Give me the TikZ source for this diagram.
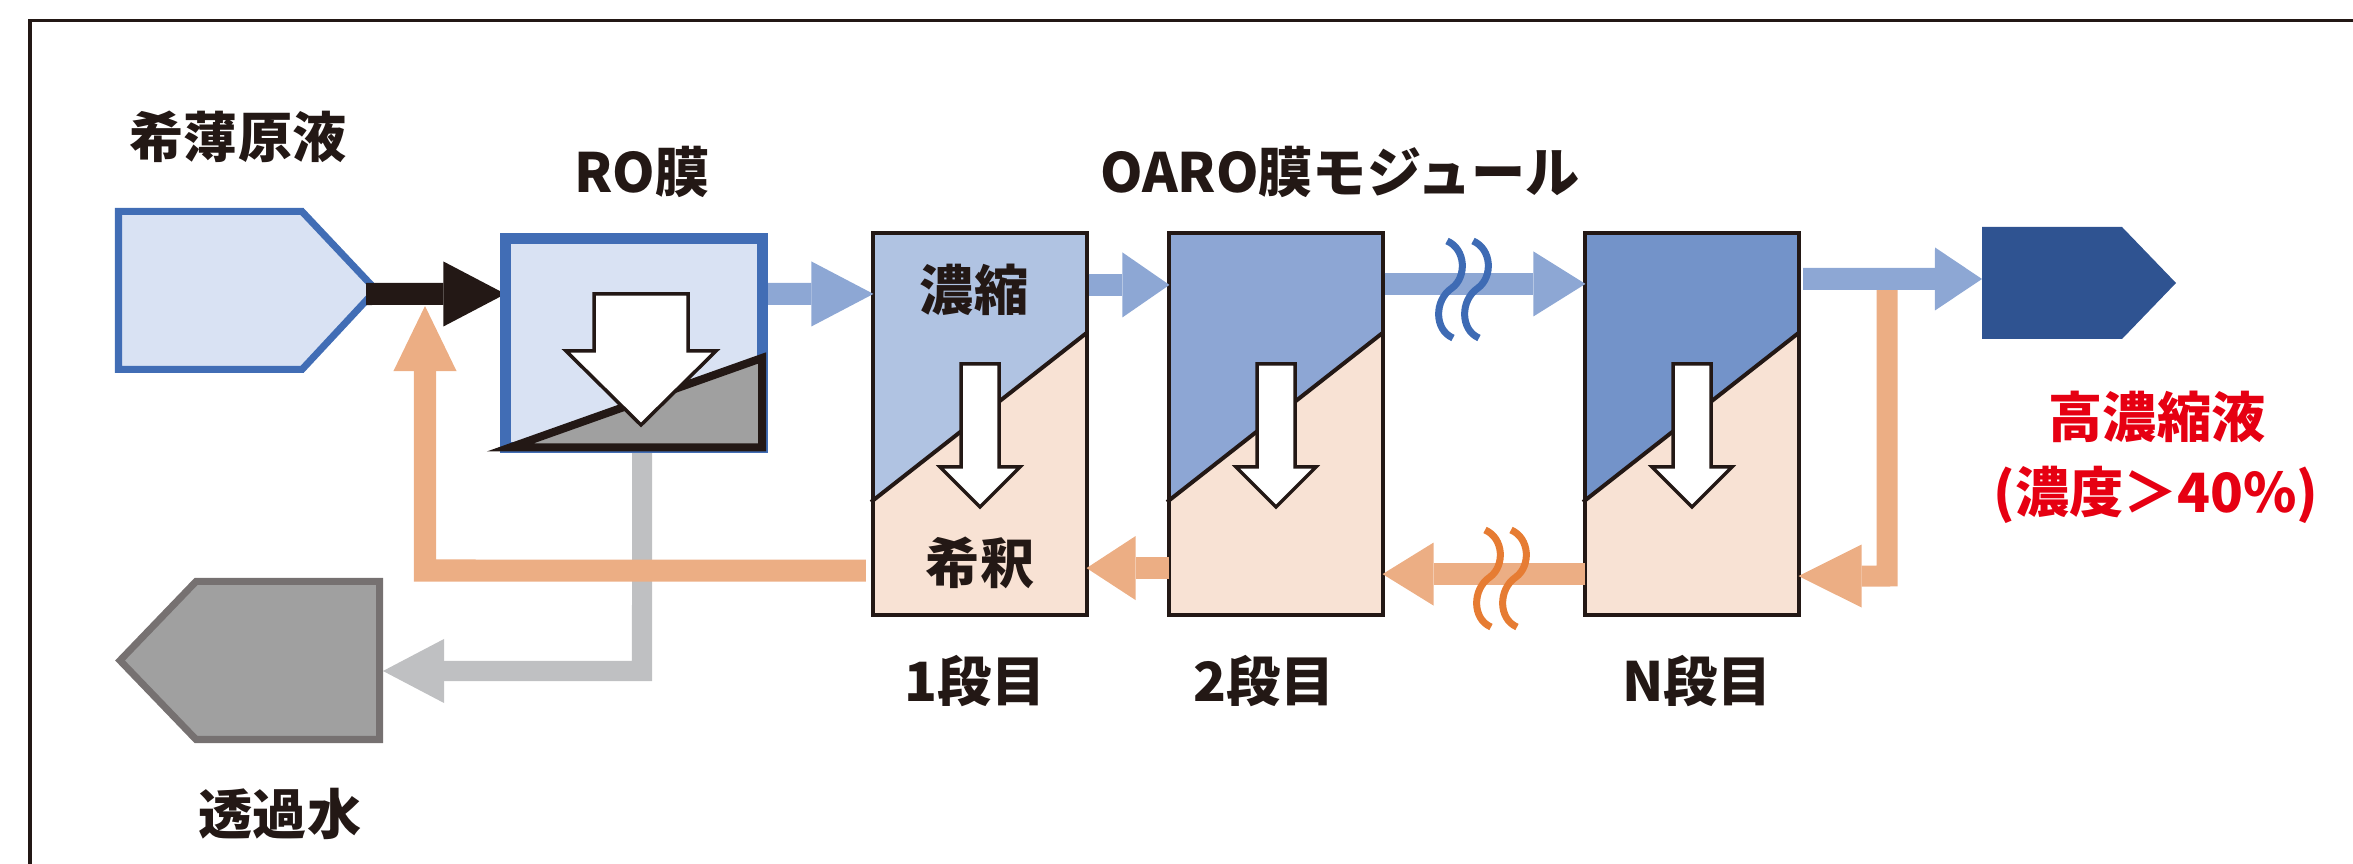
\documentclass[tikz,border=0pt]{standalone}
\usepackage{fontspec}
\setmainfont{Noto Sans CJK JP}
\usetikzlibrary{arrows.meta,calc}
\definecolor{ink}{HTML}{231815}
\definecolor{feedfill}{HTML}{D9E2F3}
\definecolor{roblue}{HTML}{416DB5}
\definecolor{stA}{HTML}{B0C3E2}
\definecolor{stB}{HTML}{8DA6D4}
\definecolor{stC}{HTML}{7393C9}
\definecolor{peach}{HTML}{F8E2D4}
\definecolor{flowblue}{HTML}{8DA7D4}
\definecolor{floworange}{HTML}{ECAE84}
\definecolor{squigorange}{HTML}{E67C33}
\definecolor{squigblue}{HTML}{3E6BB4}
\definecolor{permgray}{HTML}{BFC0C2}
\definecolor{grayfill}{HTML}{A0A0A0}
\definecolor{grayborder}{HTML}{767171}
\definecolor{product}{HTML}{2F5391}
\definecolor{redtxt}{HTML}{E60012}
\newcommand{\drawstage}[3]{%
  \fill[peach] ({#2-106.5},233) rectangle ({#2+106.5},615);
  \fill[#3] ({#2-106.5},233) -- ({#2+106.5},233) -- ({#2+106.5},333) -- ({#2-106.5},500) -- cycle;
  \draw[ink,line width=0.04cm] ({#2-109},502) -- ({#2+106.5},333);
  \draw[whitearr] ({#2-19},364) -- ({#2+19},364) -- ({#2+19},467) -- ({#2+40},467) -- (#2,507) -- ({#2-40},467) -- ({#2-19},467) -- cycle;
  \node[stbox] (#1) at (#2,424) {};
}
\begin{document}
\begin{tikzpicture}[x=0.01cm,y=-0.01cm,
  font=\fontsize{15.4pt}{18pt}\selectfont\bfseries,
  lbl/.style={text=ink, inner sep=0pt},
  redlbl/.style={text=redtxt, inner sep=0pt},
  stbox/.style={draw=ink, line width=0.04cm, minimum width=2.13cm, minimum height=3.82cm, inner sep=0pt, outer sep=0pt},
  robox/.style={draw=roblue, fill=feedfill, line width=0.11cm, minimum width=2.57cm, minimum height=2.09cm, inner sep=0pt, outer sep=0pt},
  whitearr/.style={draw=ink, fill=white, line width=0.035cm, line join=miter},
  flow/.style={line width=0.22cm, line cap=butt, line join=miter},
  squig/.style={line width=0.07cm, line cap=butt},
]
\useasboundingbox (0,0) rectangle (2353,864);
% frame
\draw[ink, line width=0.03cm] (30,864) -- (30,21) -- (2353,21);

% RO box node (drawn early for anchors)
\node[robox] (ro) at (634,343) {};
\fill[white] (ro.north west) rectangle (ro.south east);
% permeate line (gray)
\coordinate (permtip) at (383,671);
\draw[flow, draw=permgray, line width=0.2cm, -{Triangle[length=0.61cm,width=0.64cm,line width=0pt]}]
  ([xshift=0.08cm]ro.south) -- (642,671) -- (permtip);
% recycle line (orange) to feed
\coordinate (recycle) at (425,306);

% pentagons
\draw[draw=roblue, fill=feedfill, line width=0.07cm, line join=miter]
  (118.5,211.5) -- (302,211.5) -- (376,290) -- (302,369.5) -- (118.5,369.5) -- cycle;
\coordinate (feedtip) at (366,294);
\draw[draw=grayborder, fill=grayfill, line width=0.07cm, line join=miter]
  (379.5,581.5) -- (196,581.5) -- (120,660.5) -- (196,739.5) -- (379.5,739.5) -- cycle;
\fill[product] (1982,227) -- (2122,227) -- (2176,283) -- (2122,339) -- (1982,339) -- cycle;
\coordinate (prodin) at (1982,279);

% black feed arrow
\draw[flow, draw=ink, -{Triangle[length=0.62cm,width=0.65cm,line width=0pt]}]
  (feedtip) -- ([yshift=0.49cm]ro.west);

% RO box
\node[robox] (ro) at (634,343) {};
\draw[line width=0.08cm, draw=ink, fill=grayfill, line join=miter]
  (510,447.5) -- (762,358) -- (762,447.5) -- cycle;
\draw[whitearr] (594,294) -- (688,294) -- (688,351) -- (716,351) -- (641,425) -- (566,351) -- (594,351) -- cycle;

% stages
\drawstage{s1}{980}{stA}
\drawstage{s2}{1276}{stB}
\drawstage{sN}{1692}{stC}

% recycle to feed
\draw[flow, draw=floworange, -{Triangle[length=0.65cm,width=0.63cm,line width=0pt]}]
  ([xshift=-0.075cm,yshift=-1.465cm]s1.west) -- (425,570.5) -- (recycle);

% blue forward arrows
\draw[flow, draw=flowblue, -{Triangle[length=0.62cm,width=0.65cm,line width=0pt]}]
  ([xshift=0.055cm,yshift=0.49cm]ro.east) -- ([yshift=1.30cm]s1.west);
\draw[flow, draw=flowblue, -{Triangle[length=0.47cm,width=0.65cm,line width=0pt]}]
  ([xshift=0.02cm,yshift=1.39cm]s1.east) -- ([yshift=1.39cm]s2.west);
\draw[flow, draw=flowblue, -{Triangle[length=0.52cm,width=0.65cm,line width=0pt]}]
  ([xshift=0.02cm,yshift=1.40cm]s2.east) -- ([yshift=1.40cm]sN.west);
% return from last stage (orange) then output
\draw[flow, draw=floworange, line width=0.21cm, -{Triangle[length=0.63cm,width=0.63cm,line width=0pt]}]
  (1887,288) -- (1887,576) -- ([yshift=-1.52cm]sN.east);
\draw[flow, draw=flowblue, -{Triangle[length=0.47cm,width=0.63cm,line width=0pt]}]
  ([xshift=0.045cm,yshift=1.45cm]sN.east) -- (prodin);

% orange backward arrows
\draw[flow, draw=floworange, -{Triangle[length=0.49cm,width=0.64cm,line width=0pt]}]
  ([yshift=-1.44cm]s2.west) -- ([yshift=-1.44cm]s1.east);
\draw[flow, draw=floworange, -{Triangle[length=0.51cm,width=0.63cm,line width=0pt]}]
  ([yshift=-1.50cm]sN.west) -- ([yshift=-1.50cm]s2.east);

% squiggles
\foreach \dx in {0,26}{
  \draw[squig, draw=squigblue, shift={(\dx,0)}]
    (1447,241) .. controls (1466,249) and (1467,277) .. (1452,288)
    .. controls (1434,300) and (1434,330) .. (1453,338);
  \draw[squig, draw=squigorange, shift={(\dx+38,289)}]
    (1447,241) .. controls (1466,249) and (1467,277) .. (1452,288)
    .. controls (1434,300) and (1434,330) .. (1453,338);
}

% labels
\node[lbl] (tfeed) at (238,137) {希薄原液};
\node[lbl] (tro) at (642,172) {RO膜};
\node[lbl] (toaro) at (1340,172) {OARO膜モジュール};
\node[lbl] (tconc) at (974,290) {濃縮};
\node[lbl] (tdil) at (980,563) {希釈};
\node[lbl] (t1) at (975,681) {1段目};
\node[lbl] (t2) at (1264,681) {2段目};
\node[lbl] (tN) at (1697,681) {N段目};
\node[redlbl] (thigh) at (2157,417) {高濃縮液};
\node[redlbl] (tpct) at (2156,495) {(濃度＞40\%)};
\node[lbl] (tperm) at (280,814) {透過水};
\end{tikzpicture}
\end{document}
